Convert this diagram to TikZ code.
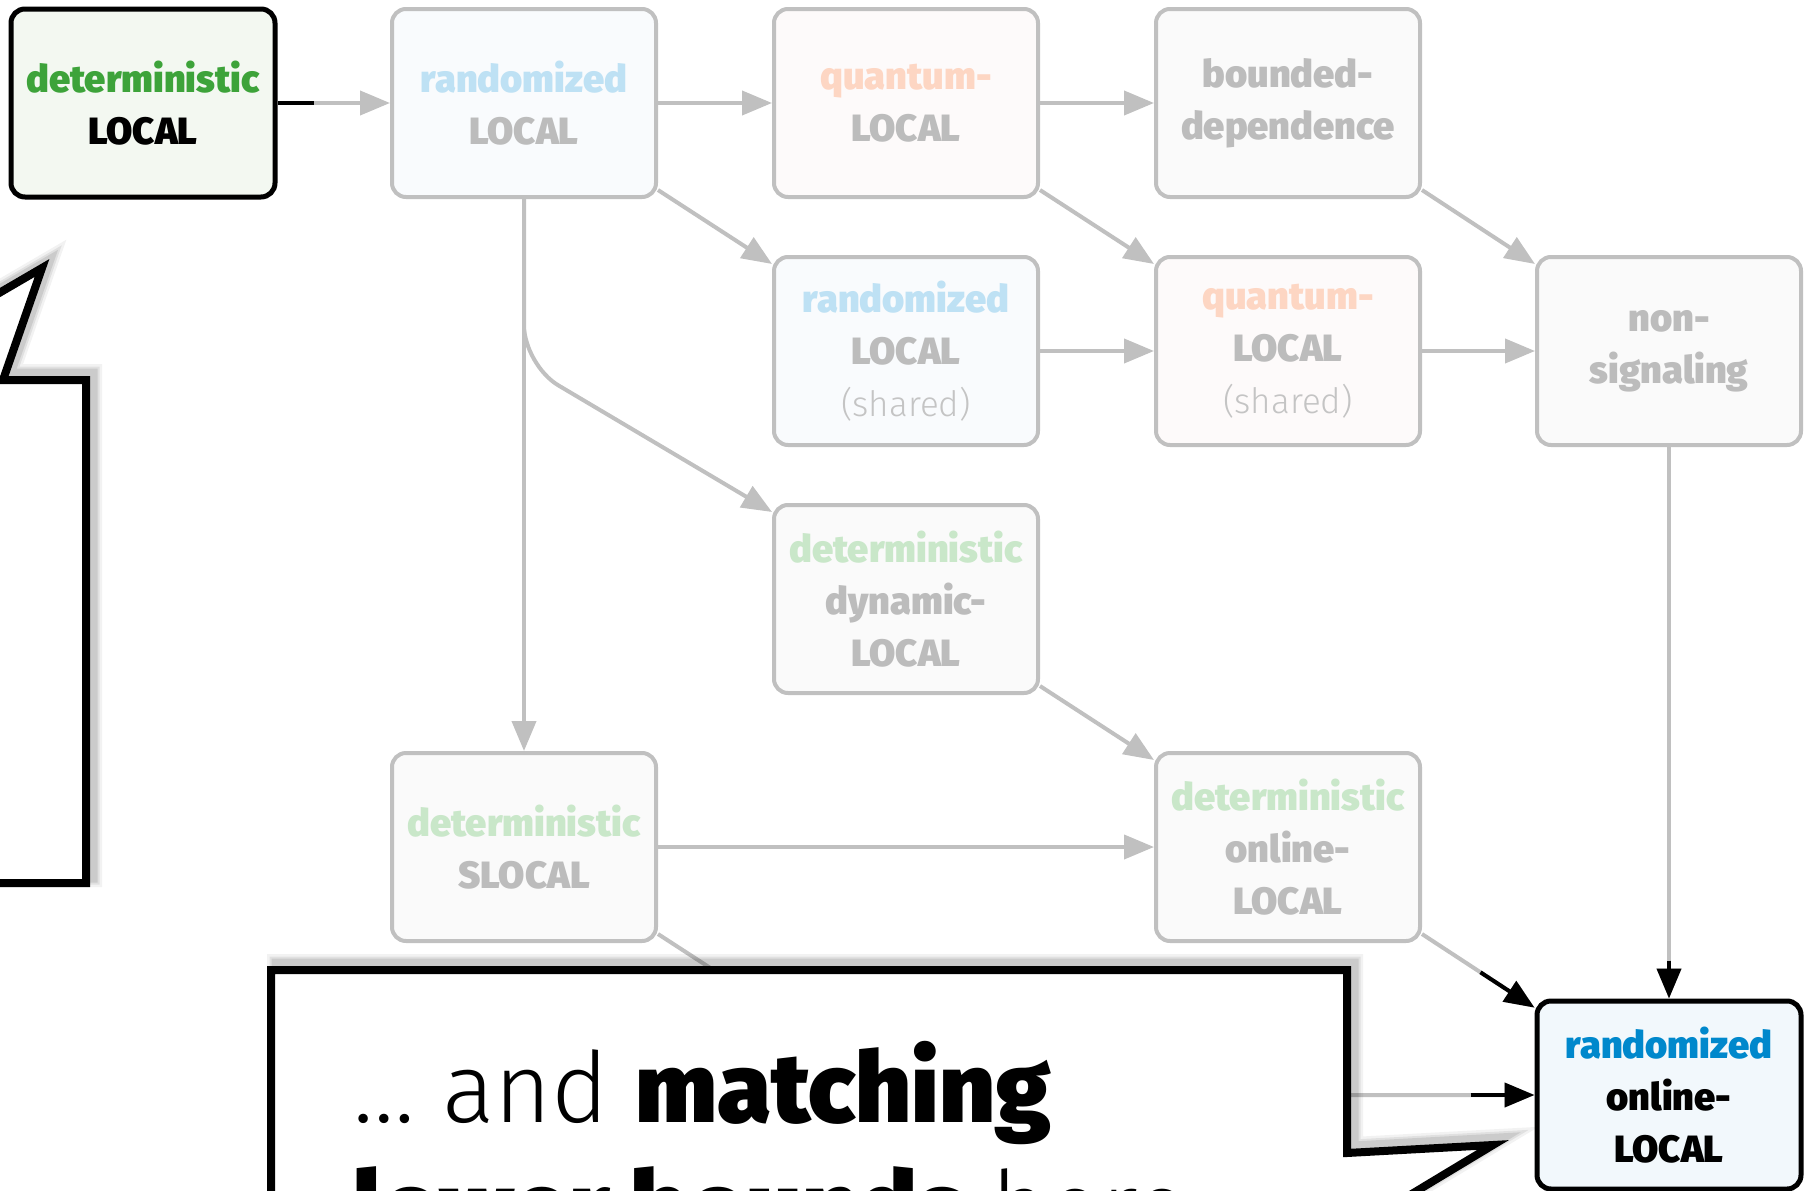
\documentclass[tikz,border=0pt]{standalone}
\usepackage{fontspec}
\setmainfont{Fira Sans}
% heaviest available weight of Fira Sans for the labels
\IfFontExistsTF{Fira Sans Black}{\newfontfamily\fheavyfam{Fira Sans Black}}{%
  \IfFontExistsTF{Fira Sans ExtraBold}{\newfontfamily\fheavyfam{Fira Sans ExtraBold}[FakeBold=0.6]}{%
    \newfontfamily\fheavyfam{Fira Sans Bold}[FakeBold=1.4]}}
\newcommand\fheavy{\fheavyfam\mdseries}
% light weight for the thin words
\IfFontExistsTF{Fira Sans Light}{\newfontfamily\flightfam{Fira Sans Light}}{%
  \newfontfamily\flightfam{Fira Sans}}
\newcommand\flight{\flightfam\mdseries}
\usetikzlibrary{arrows.meta,calc}

\definecolor{edgegray}{HTML}{C0C0C0}
\definecolor{labelgray}{HTML}{BCBCBC}
\definecolor{sharedgray}{HTML}{C4C4C4}
\definecolor{detgreen}{HTML}{3DA33A}
\definecolor{fadegreen}{HTML}{C9E7C9}
\definecolor{randblue}{HTML}{0088CC}
\definecolor{fadeblue}{HTML}{BEE1F4}
\definecolor{fadeorange}{HTML}{FDD6C3}
\definecolor{fillgreen}{HTML}{F3F8F1}
\definecolor{fillblue}{HTML}{F9FBFD}
\definecolor{fillrose}{HTML}{FDFAFA}
\definecolor{fillgray}{HTML}{FAFAFA}
\definecolor{fillsky}{HTML}{F2F8FC}

\tikzset{
  model/.style={rectangle, rounded corners=14pt, draw=edgegray, line width=4pt,
    fill=fillgray, minimum width=264pt, minimum height=188pt, inner sep=0pt,
    align=center, text=labelgray, font=\fheavy\fontsize{38}{52}\selectfont},
  hilite/.style={model, draw=black, line width=5pt, text=black},
  link/.style={draw=edgegray, line width=4pt, -{Triangle[length=30pt,width=24pt]}},
  hotlink/.style={draw=black, line width=4pt, -{Triangle[length=30pt,width=24pt]}},
  bubble/.style={draw=black, line width=8pt, fill=white, line join=miter, miter limit=20},
  bubbleshade/.style={draw=black, line join=miter, miter limit=20},
  leftcallout/.style={insert path={(-300,380) -- (-150,380) -- (42,268) -- (3,380)
    -- (86,380) -- (86,883) -- (-300,883) -- cycle}},
  lowcallout/.style={insert path={(271,1400) -- (271,970) -- (1347,970) -- (1347,1153)
    -- (1493,1145) -- (1347,1233) -- (1347,1400) -- cycle}},
}
\newcommand\sharednote{{\flight\fontsize{35}{52}\selectfont\color{sharedgray}(shared)}}

\begin{document}
\begin{tikzpicture}[x=1pt,y=-1pt]
\useasboundingbox (0,0) rectangle (1808,1191);
\clip (0,0) rectangle (1808,1191);
\fill[white] (0,0) rectangle (1808,1191);

% computation models
\node[hilite, fill=fillgreen] (dl) at (143,103)
  {{\color{detgreen}deterministic}\\LOCAL};
\node[model, fill=fillblue] (rl) at (524,103)
  {{\color{fadeblue}randomized}\\LOCAL};
\node[model, fill=fillrose] (ql) at (906,103)
  {{\color{fadeorange}quantum-}\\LOCAL};
\node[model] (bd) at (1288,103) {bounded-\\dependence};
\node[model, fill=fillblue] (rls) at (906,351)
  {{\color{fadeblue}randomized}\\LOCAL\\\sharednote};
\node[model, fill=fillrose] (qls) at (1288,351)
  {{\color{fadeorange}quantum-}\\LOCAL\\\sharednote};
\node[model] (ns) at (1669,351) {non-\\signaling};
\node[model] (dyn) at (906,599)
  {{\color{fadegreen}deterministic}\\dynamic-\\LOCAL};
\node[model] (sl) at (524,847)
  {{\color{fadegreen}deterministic}\\SLOCAL};
\node[model] (dol) at (1288,847)
  {{\color{fadegreen}deterministic}\\online-\\LOCAL};
\node[hilite, fill=fillsky] (rol) at (1669,1095)
  {{\color{randblue}randomized}\\online-\\LOCAL};

% simulation arrows
\draw[link] (dl.east) -- (rl.west);
\draw[black, line width=4pt] (dl.east) -- ++(36,0);
\draw[link] (rl.east) -- (ql.west);
\draw[link] (ql.east) -- (bd.west);
\draw[link] (rl.-33) -- (rls.147);
\draw[link] (ql.-33) -- (qls.147);
\draw[link] (bd.-33) -- (ns.147);
\draw[link] (rls.east) -- (qls.west);
\draw[link] (qls.east) -- (ns.west);
\draw[link] (rl.south) -- (sl.north);
\draw[link, rounded corners=40pt] (rl.south) -- ($(rl.south |- rls.west)+(0,14)$) -- (dyn.147);
\draw[link] (dyn.-33) -- (dol.147);
\draw[link] (sl.east) -- (dol.west);
\draw[link, rounded corners=40pt] (sl.-33) -- (dyn |- rol) -- (rol.west);
\draw[link] (dol.-33) -- (rol.147);
\draw[link] (ns.south) -- (rol.north);

% arrows into the target model
\draw[hotlink] ($(dol.-33)!0.52!(rol.147)$) -- (rol.147);
\draw[hotlink] ($(rol.west)+(-64,0)$) -- (rol.west);
\draw[hotlink] ($(rol.north)+(0,-38)$) -- (rol.north);

% left callout
\foreach \w/\o in {20/0.05,15/0.07,11/0.09}
  \draw[bubbleshade, line width=\w pt, opacity=\o, shift={(6pt,6pt)}, leftcallout];
\draw[bubble, leftcallout];

% bottom callout
\foreach \w/\o in {20/0.05,15/0.07,11/0.09}
  \draw[bubbleshade, line width=\w pt, opacity=\o, shift={(6pt,6pt)}, lowcallout];
\draw[bubble, lowcallout];
\node[anchor=base west, inner sep=0pt, font=\fontsize{98}{119}\selectfont] (say1)
  at (353,1122) {{\flight … and} {\fheavy matching}};
\node[anchor=base west, inner sep=0pt, font=\fontsize{98}{119}\selectfont] (say2)
  at (353,1241) {{\fheavy lower bounds} {\flight here}};
\end{tikzpicture}
\end{document}
